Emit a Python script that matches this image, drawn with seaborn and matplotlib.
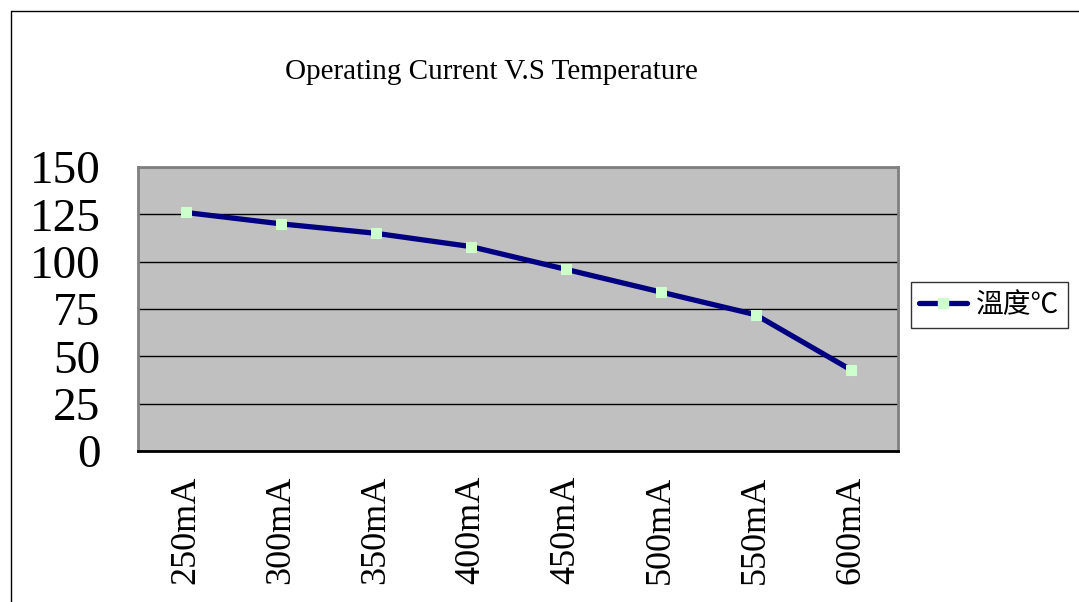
import pandas as pd
import seaborn as sns
import matplotlib.pyplot as plt
from matplotlib.lines import Line2D

# data
currents = ["250mA", "300mA", "350mA", "400mA", "450mA", "500mA", "550mA", "600mA"]
temps = [126, 120, 115, 108, 96, 84, 72, 43]
y_ticks = [0, 25, 50, 75, 100, 125, 150]
series_name = "溫度℃"

df = pd.DataFrame({"current": currents, "temp": temps, "series": series_name})

sns.set_style("white")
plt.rcParams["font.family"] = ["Liberation Serif", "Noto Sans CJK TC", "DejaVu Sans"]
plt.rcParams["text.color"] = "black"
plt.rcParams["xtick.labelcolor"] = "black"
plt.rcParams["ytick.labelcolor"] = "black"

fig = plt.figure(figsize=(10.79, 6.02), dpi=100)
ax = fig.add_axes([138 / 1079, 1 - 451 / 602, (898 - 138) / 1079, (451 - 167) / 602])
ax.set_facecolor("#C0C0C0")

sns.lineplot(data=df, x="current", y="temp", hue="series", palette=["#000080"],
             linewidth=3.8, marker="s", markersize=6.5, markerfacecolor="#CCFFCC",
             markeredgecolor="#CCFFCC", ax=ax, legend=False, sort=False)

ax.set_xlim(-0.5, len(currents) - 0.5)
ax.set_ylim(0, 150)
ax.set_yticks(y_ticks)
ax.yaxis.grid(True, color="black", linewidth=1)
ax.set_axisbelow(True)
ax.tick_params(axis="y", length=0, labelsize=34, pad=27)

ax.set_xticks(range(len(currents)))
ax.set_xticklabels(currents, rotation=90)
ax.tick_params(axis="x", which="major", length=0, labelsize=26, pad=18)
ax.set_xticks([i + 0.5 for i in range(-1, len(currents))], minor=True)
ax.tick_params(axis="x", which="minor", direction="in", length=8, width=1.2, color="black")

ax.set_xlabel("")
ax.set_ylabel("")
for side in ["left", "top", "right"]:
    ax.spines[side].set_color("#808080")
    ax.spines[side].set_linewidth(2)
ax.spines["bottom"].set_color("black")
ax.spines["bottom"].set_linewidth(2)

fig.text(491 / 1079, 1 - 72 / 602, "Operating Current V.S Temperature",
         ha="center", va="center", fontsize=21)

handle = Line2D([], [], color="#000080", linewidth=3.8, marker="s", markersize=6.5,
                markerfacecolor="#CCFFCC", markeredgecolor="#CCFFCC")
leg = fig.legend([handle], [series_name], loc="center left",
                 bbox_to_anchor=(911 / 1079, 1 - 305 / 602), frameon=True,
                 fancybox=False, handlelength=1.7, handletextpad=0.35,
                 borderpad=0.3, borderaxespad=0,
                 prop={"family": ["Noto Sans CJK TC"], "size": 20})
leg.get_frame().set_edgecolor("black")
leg.get_frame().set_linewidth(1)

# outer chart border (left and top visible)
fig.add_artist(Line2D([11 / 1079, 11 / 1079], [0, 1 - 11 / 602], color="black", linewidth=1))
fig.add_artist(Line2D([11 / 1079, 1], [1 - 11 / 602, 1 - 11 / 602], color="black", linewidth=1))

fig.savefig("out.png", dpi=100)
